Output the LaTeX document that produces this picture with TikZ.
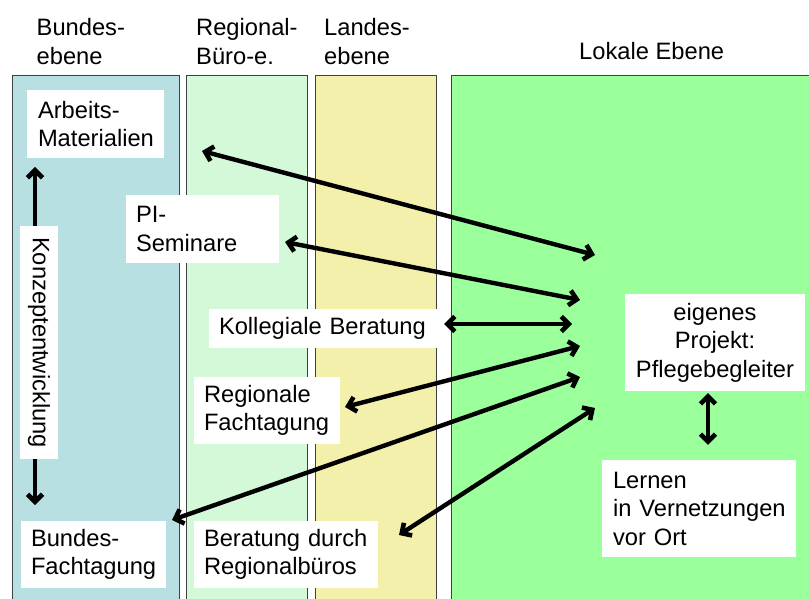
\documentclass[tikz,border=0pt]{standalone}
\usepackage{fontspec}
\setmainfont{Liberation Sans}
\usetikzlibrary{arrows.meta,calc}
\definecolor{bundcol}{HTML}{B8DFE2}
\definecolor{regcol}{HTML}{D3F9D9}
\definecolor{landcol}{HTML}{F3F0AB}
\definecolor{lokcol}{HTML}{9BFF9B}
\definecolor{rimcol}{HTML}{404040}
\hyphenpenalty=10000
\exhyphenpenalty=10000
\newcommand\txtfont{\fontsize{23.7}{28.5}\selectfont}
\begin{document}
\begin{tikzpicture}[x=1pt,y=-1pt,
  column/.style={draw=rimcol, line width=0.9pt},
  head/.style={font=\txtfont, inner sep=0pt, align=left, anchor=north west},
  box/.style={fill=white, font=\txtfont, inner ysep=0pt, align=left},
  tipend/.tip={Straight Barb[length=7.5pt,width=15pt,line width=4.6pt]},
  link/.style={line width=4.4pt, tipend-tipend}
]
\useasboundingbox (0,0) rectangle (809,599);
\clip (0,0) rectangle (809,599);

% level columns
\draw[column, fill=bundcol] (12,75) rectangle (179,640);
\draw[column, fill=regcol]  (186,75) rectangle (307,640);
\draw[column, fill=landcol] (315,75) rectangle (436,640);
\draw[column, fill=lokcol]  (451,75) rectangle (840,640);

% column headings
\node[head] (hbund) at (36.5,18.5) {Bundes-\\ebene};
\node[head] (hreg)  at (196,18.5) {Regional-\\Büro-e.};
\node[head] (hland) at (324,18.5) {Landes-\\ebene};
\node[font=\txtfont, inner sep=0pt, anchor=base west] (hlok) at (579,60) {Lokale Ebene};

% vertical arrow of the concept column (passes behind its label)
\coordinate (ktop) at (35,167);
\coordinate (kbot) at (35,505);
\draw[link] (ktop) -- (kbot);

% activity boxes
\node[box, minimum width=137pt, minimum height=68pt, text width=115pt, inner xsep=11pt] (arb) at (95.5,124) {Arbeits-\\Materialien};
\node[box, minimum width=153pt, minimum height=68pt, text width=133pt, inner xsep=10pt] (pi) at (202.5,229) {PI-\\Seminare};
\node[box, minimum width=231pt, minimum height=39pt, text width=211pt, inner xsep=10pt] (koll) at (324.5,328.5) {Kollegiale~Beratung};
\node[box, minimum width=146pt, minimum height=67pt, text width=126pt, inner xsep=10pt] (reg) at (267,410.5) {Regionale\\Fachtagung};
\node[box, minimum width=145pt, minimum height=67pt, text width=125pt, inner xsep=10pt] (bft) at (93.5,554.5) {Bundes-\\Fachtagung};
\node[box, minimum width=184pt, minimum height=67pt, text width=164pt, inner xsep=10pt] (ber) at (286,554.5) {Beratung~durch\\Regionalbüros};
\node[box, minimum width=180pt, minimum height=97pt, text width=170pt, inner xsep=5pt, align=center] (proj) at (715,342.5) {eigenes\\Projekt:\\Pflegebegleiter};
\node[box, minimum width=194pt, minimum height=97pt, text width=172pt, inner xsep=11pt] (lern) at (699,508.5) {Lernen\\in~Vernetzungen\\vor~Ort};
\node[fill=white, font=\txtfont, inner sep=0pt, minimum width=233pt, minimum height=38pt, rotate=-90] (konz) at (39,342.5) {Konzeptentwicklung};

% arrow ends next to the activity boxes
\coordinate (arbE)  at (202,151);
\coordinate (piE)   at (285,242);
\coordinate (kollE) at (444,324);
\coordinate (regE)  at (345,407);
\coordinate (bftE)  at (172,520);
\coordinate (berE)  at (399,535);

% arrow ends inside the local level
\coordinate (lok1) at (595,255);
\coordinate (lok2) at (580,300);
\coordinate (lok3) at (572,324);
\coordinate (lok4) at (580,346);
\coordinate (lok5) at (580,377);
\coordinate (lok6) at (595,408);

\draw[link] (arbE) -- (lok1);
\draw[link] (piE) -- (lok2);
\draw[link] (kollE) -- (lok3);
\draw[link] (regE) -- (lok4);
\draw[link] (bftE) -- (lok5);
\draw[link] (berE) -- (lok6);

% own project and local networking
\draw[link] ([xshift=-7pt,yshift=-2pt]proj.south) -- ([xshift=9pt,yshift=15pt]lern.north);
\end{tikzpicture}
\end{document}
